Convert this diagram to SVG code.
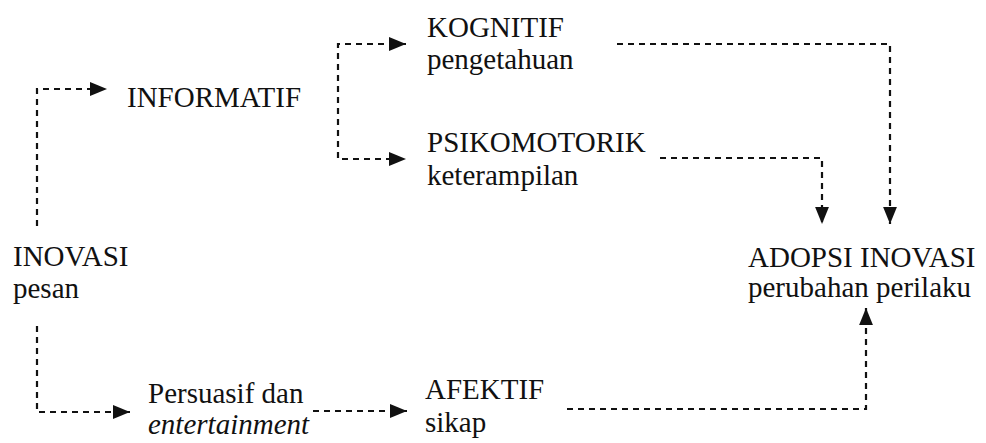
<svg xmlns="http://www.w3.org/2000/svg" width="986" height="443" viewBox="0 0 986 443">
<style>
.t{font-size:29px;fill:#111}
.it{font-style:italic}
.c{fill:none;stroke:#111;stroke-width:2.2;stroke-dasharray:6 5}
</style>
<defs>
<marker id="ah" viewBox="0 0 16 13" refX="16" refY="6.5" markerWidth="17" markerHeight="14" markerUnits="userSpaceOnUse" orient="auto-start-reverse">
<path d="M0,0 L16,6.5 L0,13 z" fill="#111"/>
</marker>
</defs>
<rect width="986" height="443" fill="#fff"/>
<g id="connectors">
<path class="c" d="M37,226 V89 H107" marker-end="url(#ah)"/>
<path class="c" d="M406,44 H338 V159 H406" marker-start="url(#ah)" marker-end="url(#ah)"/>
<path class="c" d="M617,44 H890 V224" marker-end="url(#ah)"/>
<path class="c" d="M660,158 H822 V224" marker-end="url(#ah)"/>
<path class="c" d="M37,326 V412 H130" marker-end="url(#ah)"/>
<path class="c" d="M313,411 H407" marker-end="url(#ah)"/>
<path class="c" d="M567,409 H866 V308" marker-end="url(#ah)"/>
</g>
<g font-family="Liberation Serif, serif" class="t">
<g id="informatif"><text x="127" y="107">INFORMATIF</text></g>
<g id="kognitif"><text x="427" y="37">KOGNITIF</text><text x="427" y="69">pengetahuan</text></g>
<g id="psikomotorik"><text x="427" y="152">PSIKOMOTORIK</text><text x="427" y="185">keterampilan</text></g>
<g id="inovasi"><text x="13" y="266">INOVASI</text><text x="13" y="298">pesan</text></g>
<g id="adopsi"><text x="748" y="267">ADOPSI INOVASI</text><text x="748" y="297">perubahan perilaku</text></g>
<g id="persuasif"><text x="148" y="403">Persuasif dan</text><text x="148" y="434" class="it">entertainment</text></g>
<g id="afektif"><text x="425" y="399">AFEKTIF</text><text x="425" y="432">sikap</text></g>
</g>
</svg>
